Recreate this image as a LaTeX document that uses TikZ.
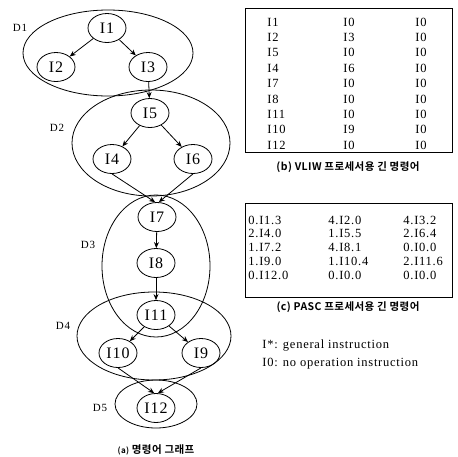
\documentclass[tikz,border=0pt]{standalone}
\usepackage{fontspec}
\setmainfont{Liberation Serif}[LetterSpace=6]
\newfontfamily\kr{Noto Sans CJK KR}[BoldFont={Noto Sans CJK KR Bold},LetterSpace=4]
\usetikzlibrary{arrows.meta,shapes.geometric}
\begin{document}
\begin{tikzpicture}[x=1pt,y=-1pt,thick,>={Stealth[length=6pt,width=5pt]},
  inst node/.style={ellipse,draw,minimum width=38pt,minimum height=29pt,inner sep=0pt,font=\fontsize{16}{16}\selectfont},
  set label/.style={font=\fontsize{11}{11}\selectfont},
  cell/.style={anchor=west,inner sep=0pt,font=\fontsize{12.5}{12.5}\selectfont},
  caption/.style={font=\kr\bfseries\fontsize{10.5}{10.5}\selectfont}]
\useasboundingbox (0,0) rectangle (458,456);
% instruction groups
\draw (108,53) ellipse (85 and 43);
\draw (151,143) ellipse (79 and 53);
\draw (156,266) ellipse (54 and 71);
\draw (154,336) ellipse (77 and 44);
\draw (156,404) ellipse (41 and 24);
\node [set label] (d1) at (20,28) {D1};
\node [set label] (d2) at (57,128) {D2};
\node [set label] (d3) at (88,245) {D3};
\node [set label] (d4) at (63,326) {D4};
\node [set label] (d5) at (100,408) {D5};
% instructions
\node [inst node] (i1) at (107,28) {I1};
\node [inst node] (i2) at (56,67) {I2};
\node [inst node] (i3) at (148,67) {I3};
\node [inst node] (i5) at (150,113) {I5};
\node [inst node] (i4) at (112,159) {I4};
\node [inst node] (i6) at (193,159) {I6};
\node [inst node] (i7) at (157,217) {I7};
\node [inst node] (i8) at (156,263) {I8};
\node [inst node] (i11) at (156,315) {I11};
\node [inst node] (i10) at (118,353) {I10};
\node [inst node] (i9) at (201,353) {I9};
\node [inst node] (i12) at (156,408) {I12};
% dependences
\draw [->] (i1) -- (i2);
\draw [->] (i1) -- (i3);
\draw [->] (i3) -- (i5);
\draw [->] (i5) -- (i4);
\draw [->] (i5) -- (i6);
\draw [->] (i4.south) -- (i7.97);
\draw [->] (i6.south) -- (i7.83);
\draw [->] (i7) -- (i8);
\draw [->] (i8) -- (i11);
\draw [->] (i11) -- (i10);
\draw [->] (i11) -- (i9);
\draw [->] (i10.south) -- (i12.97);
\draw [->] (i9.south) -- (i12.83);
\node [caption] (capa) at (156,450) {{\fontsize{8}{8}\selectfont(a)} 명령어 그래프};
% VLIW long instructions
\draw [thin] (245,8) rectangle (452,152);
\foreach \a/\b/\c [count=\r] in {I1/I0/I0,I2/I3/I0,I5/I0/I0,I4/I6/I0,I7/I0/I0,I8/I0/I0,I11/I0/I0,I10/I9/I0,I12/I0/I0}{
  \node [cell] (v\r a) at (267,{22+15.4*(\r-1)}) {\a};
  \node [cell] (v\r b) at (343,{22+15.4*(\r-1)}) {\b};
  \node [cell] (v\r c) at (415,{22+15.4*(\r-1)}) {\c};
}
\node [caption] (capb) at (348,167) {(b) VLIW 프로세서용 긴 명령어};
% PASC long instructions
\draw [thin] (245,203) rectangle (452,297);
\foreach \a/\b/\c [count=\r] in {0.I1.3/4.I2.0/4.I3.2,2.I4.0/1.I5.5/2.I6.4,1.I7.2/4.I8.1/0.I0.0,1.I9.0/1.I10.4/2.I11.6,0.I12.0/0.I0.0/0.I0.0}{
  \node [cell] (p\r a) at (248,{220+13.75*(\r-1)}) {\a};
  \node [cell] (p\r b) at (328,{220+13.75*(\r-1)}) {\b};
  \node [cell] (p\r c) at (403,{220+13.75*(\r-1)}) {\c};
}
\node [caption] (capc) at (348,307) {(c) PASC 프로세서용 긴 명령어};
% legend
\node [cell] (key1) at (262,346) {I*: general instruction};
\node [cell] (key2) at (262,364) {I0: no operation instruction};
\end{tikzpicture}
\end{document}
